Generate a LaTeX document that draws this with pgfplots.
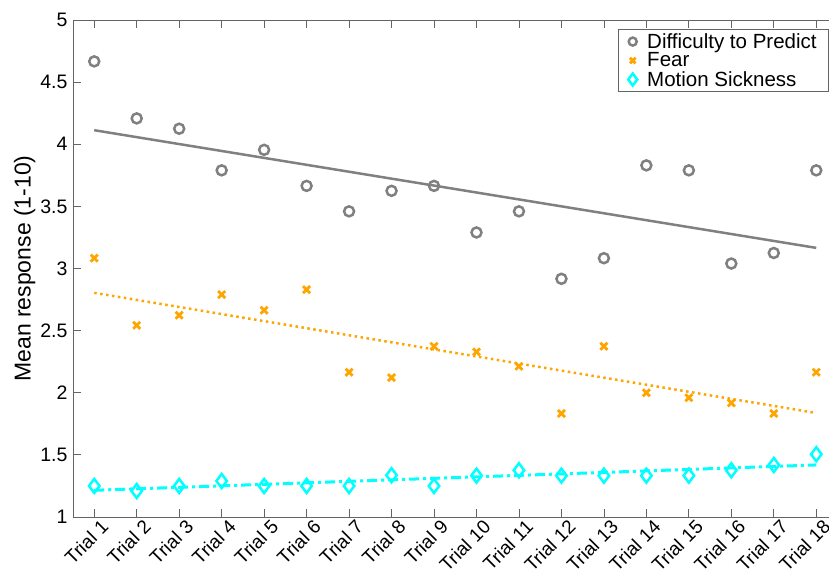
\documentclass[border=0pt]{standalone}
\usepackage{fontspec}
\setmainfont{Liberation Sans}
\usepackage{pgfplots}
\pgfplotsset{compat=1.18}
\usetikzlibrary{calc}
\definecolor{dgray}{RGB}{128,128,128}
\definecolor{axgray}{RGB}{100,100,100}
\definecolor{morange}{RGB}{255,165,0}
\definecolor{mcyan}{RGB}{0,255,255}
\begin{document}
\begin{tikzpicture}
\begin{axis}[
  scale only axis, width=756pt, height=497pt,
  xmin=0.5, xmax=18.3, ymin=1, ymax=5,
  axis x line=box, axis y line=left,
  y axis line style={-},
  axis line style={axgray, line width=0.8pt},
  tick style={axgray, line width=0.8pt},
  tick align=inside, major tick length=8pt,
  xtick={1,...,18},
  xticklabels={Trial 1,Trial 2,Trial 3,Trial 4,Trial 5,Trial 6,Trial 7,Trial 8,Trial 9,Trial 10,Trial 11,Trial 12,Trial 13,Trial 14,Trial 15,Trial 16,Trial 17,Trial 18},
  x tick label style={rotate=45, anchor=north east, inner sep=1pt, xshift=4pt, yshift=-4pt, font=\fontsize{19}{19}\selectfont},
  ytick={1,1.5,2,2.5,3,3.5,4,4.5,5},
  y tick label style={font=\fontsize{19.5}{19.5}\selectfont, xshift=-2pt},
  /pgf/number format/assume math mode=true,
  ylabel={Mean response (1-10)},
  ylabel style={font=\fontsize{23}{23}\selectfont, yshift=-2pt},
  legend style={at={(rel axis cs:1,1)}, anchor=north east, yshift=-9pt, draw=axgray, line width=0.8pt,
    font=\fontsize{20.5}{20.5}\selectfont, row sep=-1pt, inner sep=2pt, inner xsep=10pt,
    nodes={inner sep=2pt}},
  legend cell align=left,
  clip=false,
]
% fit lines
\addplot[dgray, line width=2.5pt, forget plot] coordinates {(1,4.113) (18,3.166)};
\addplot[morange, line width=2.5pt, dash pattern=on 2.5pt off 3.5pt, forget plot] coordinates {(1,2.804) (18,1.837)};
\addplot[mcyan, line width=3pt, dash pattern=on 10pt off 4pt on 3pt off 4pt, forget plot] coordinates {(1,1.215) (18,1.419)};
% data
\addplot[only marks, mark=o, mark size=5pt, dgray, line width=2.5pt, legend image post style={mark size=4pt}] coordinates {
(1,4.667) (2,4.208) (3,4.125) (4,3.79) (5,3.955) (6,3.665) (7,3.46) (8,3.625) (9,3.665)
(10,3.29) (11,3.46) (12,2.917) (13,3.083) (14,3.83) (15,3.79) (16,3.04) (17,3.125) (18,3.79)};
\addlegendentry{\hspace{8pt}Difficulty to Predict}
\addplot[only marks, mark=x, mark size=5pt, morange, line width=2.8pt, legend image post style={mark size=4pt}] coordinates {
(1,3.083) (2,2.543) (3,2.624) (4,2.79) (5,2.664) (6,2.83) (7,2.165) (8,2.122) (9,2.374)
(10,2.329) (11,2.213) (12,1.833) (13,2.374) (14,2.0) (15,1.96) (16,1.918) (17,1.833) (18,2.165)};
\addlegendentry{\hspace{8pt}Fear}
\addplot[only marks, mark=diamond, mark size=7pt, mcyan, line width=2.5pt, legend image post style={mark size=6pt}] coordinates {
(1,1.25) (2,1.209) (3,1.25) (4,1.29) (5,1.25) (6,1.25) (7,1.25) (8,1.336) (9,1.25)
(10,1.333) (11,1.376) (12,1.333) (13,1.333) (14,1.333) (15,1.333) (16,1.376) (17,1.419) (18,1.505)};
\addlegendentry{\hspace{8pt}Motion Sickness}
\end{axis}
\pgfresetboundingbox
\path[use as bounding box] ($(current axis.south west)+(-73pt,-64pt)$) rectangle ($(current axis.north east)+(0pt,20pt)$);
\end{tikzpicture}
\end{document}
